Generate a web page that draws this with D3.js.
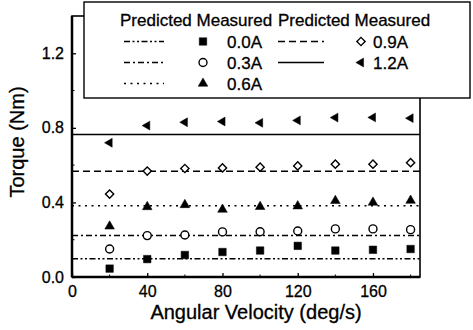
<!DOCTYPE html>
<html>
<head>
<meta charset="utf-8">
<script src="https://cdn.jsdelivr.net/npm/d3@7"></script>
<style>
  body { margin: 0; background: #fff; }
  svg { display: block; font-family: Arial, "Liberation Sans", sans-serif; }
  svg text { fill: #000; stroke: #000; stroke-width: 0.3px; }
</style>
</head>
<body>
<div id="chart"></div>
<script>
// Data
const speeds = [20, 40, 60, 80, 100, 120, 140, 160, 180];
const currents = ['0.0A', '0.3A', '0.6A', '0.9A', '1.2A'];
const measured00 = [0.045, 0.096, 0.118, 0.134, 0.142, 0.167, 0.142, 0.146, 0.150];
const measured03 = [0.150, 0.222, 0.225, 0.242, 0.243, 0.247, 0.258, 0.258, 0.254];
const measured06 = [0.272, 0.376, 0.387, 0.362, 0.377, 0.380, 0.409, 0.400, 0.410];
const measured09 = [0.445, 0.568, 0.582, 0.585, 0.589, 0.596, 0.605, 0.605, 0.613];
const measured12 = [0.720, 0.812, 0.830, 0.834, 0.827, 0.840, 0.855, 0.856, 0.852];
const predicted = [0.098, 0.222, 0.382, 0.567, 0.765];
const xTicks = [0, 40, 80, 120, 160];
const yTicks = [0.0, 0.4, 0.8, 1.2];

const width = 473, height = 330;
const margin = {top: 16, right: 53, bottom: 53, left: 72};

const svg = d3.select('#chart').append('svg')
  .attr('width', width)
  .attr('height', height);

const x = d3.scaleLinear().domain([0, 185]).range([margin.left, width - margin.right]);
const y = d3.scaleLinear().domain([0, 1.4]).range([height - margin.bottom, margin.top]);

// line styles and marker per current
const dashes = ['6,2.5,2,2.5,2,2.5', '6,3,2,3', '2,4.5', '7,4', null];
const measured = [measured00, measured03, measured06, measured09, measured12];
const markers = [
  {type: d3.symbolSquare, size: 56, fill: true, rot: 0},
  {type: d3.symbolCircle, size: 50, fill: false, rot: 0},
  {type: d3.symbolTriangle, size: 40, fill: true, rot: 0},
  {type: d3.symbolSquare, size: 34, fill: false, rot: 45},
  {type: d3.symbolTriangle, size: 34, fill: true, rot: -90}
];

function drawMarker(g, m, cx, cy) {
  g.append('path')
    .attr('d', d3.symbol().type(m.type).size(m.size)())
    .attr('transform', 'translate(' + cx + ',' + cy + ') rotate(' + m.rot + ')')
    .style('fill', m.fill ? '#000' : '#fff')
    .style('stroke', '#000')
    .style('stroke-width', m.fill ? 0.5 : 1.4);
}

const plot = svg.append('g');

// Predicted lines
predicted.forEach((v, i) => {
  plot.append('line')
    .attr('x1', x(0)).attr('x2', x(185))
    .attr('y1', y(v)).attr('y2', y(v))
    .style('stroke', '#000')
    .style('stroke-width', 1.5)
    .style('stroke-dasharray', dashes[i]);
});

// Measured points
measured.forEach((vals, i) => {
  vals.forEach((v, j) => drawMarker(plot, markers[i], x(speeds[j]), y(v)));
});

// Axes (ticks inside)
const xAxis = svg.append('g')
  .attr('transform', 'translate(0,' + y(0) + ')')
  .call(d3.axisBottom(x).tickValues(xTicks).tickSize(-4).tickPadding(9).tickFormat(d3.format('d')));
const yAxis = svg.append('g')
  .attr('transform', 'translate(' + x(0) + ',0)')
  .call(d3.axisLeft(y).tickValues(yTicks).tickSize(-4).tickPadding(8).tickFormat(d3.format('.1f')));

// minor ticks
svg.append('g').selectAll('line').data([20, 60, 100, 140, 180]).join('line')
  .attr('x1', d => x(d)).attr('x2', d => x(d))
  .attr('y1', y(0)).attr('y2', y(0) - 2.5)
  .style('stroke', '#000');
svg.append('g').selectAll('line').data([0.2, 0.6, 1.0]).join('line')
  .attr('x1', x(0)).attr('x2', x(0) + 2.5)
  .attr('y1', d => y(d)).attr('y2', d => y(d))
  .style('stroke', '#000');

[xAxis, yAxis].forEach(a => {
  a.select('.domain').remove();
  a.selectAll('line').style('stroke-width', 1.3);
  a.selectAll('text').style('font-size', '16px');
});

// Frame
svg.append('rect')
  .attr('x', x(0)).attr('y', y(1.4))
  .attr('width', x(185) - x(0)).attr('height', y(0) - y(1.4))
  .style('fill', 'none')
  .style('stroke', '#000')
  .style('stroke-width', 1.6);
svg.append('line')
  .attr('x1', x(0)).attr('x2', x(185)).attr('y1', y(0)).attr('y2', y(0))
  .style('stroke', '#000').style('stroke-width', 2.5);
svg.append('line')
  .attr('x1', x(0)).attr('x2', x(0)).attr('y1', y(0)).attr('y2', y(1.4))
  .style('stroke', '#000').style('stroke-width', 2.5);

// Axis titles
svg.append('text')
  .attr('x', 256).attr('y', 319)
  .attr('text-anchor', 'middle')
  .style('font-size', '20px')
  .text('Angular Velocity (deg/s)');
svg.append('text')
  .attr('transform', 'translate(24,142) rotate(-90)')
  .attr('text-anchor', 'middle')
  .style('font-size', '20px')
  .text('Torque (Nm)');

// Legend
const legend = svg.append('g');
legend.append('rect')
  .attr('x', 84).attr('y', 2)
  .attr('width', 386).attr('height', 96)
  .style('fill', '#fff')
  .style('stroke', '#000')
  .style('stroke-width', 1.4);
legend.append('text').attr('x', 120).attr('y', 26).style('font-size', '17px').text('Predicted Measured');
legend.append('text').attr('x', 278).attr('y', 26).style('font-size', '17px').text('Predicted Measured');

const cols = [
  {lineX: 124, lineW: 40, markX: 203, labX: 227},
  {lineX: 278, lineW: 46, markX: 361, labX: 373}
];
currents.forEach((c, i) => {
  const col = cols[i < 3 ? 0 : 1];
  const row = i < 3 ? i : i - 3;
  const cy = 41.5 + row * 21;
  const item = legend.append('g');
  item.append('line')
    .attr('x1', col.lineX).attr('x2', col.lineX + col.lineW)
    .attr('y1', cy).attr('y2', cy)
    .style('stroke', '#000')
    .style('stroke-width', 1.5)
    .style('stroke-dasharray', dashes[i]);
  drawMarker(item, markers[i], col.markX, cy);
  item.append('text')
    .attr('x', col.labX).attr('y', cy + 6)
    .style('font-size', '17px')
    .text(c);
});
</script>
</body>
</html>
